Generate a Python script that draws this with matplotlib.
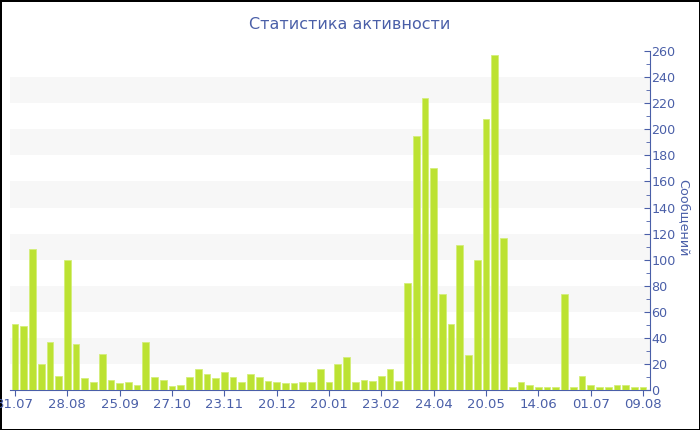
import matplotlib.pyplot as plt
from matplotlib.ticker import MultipleLocator

# messages per period, left to right
values = [51, 49, 108, 20, 37, 11, 100, 35, 9, 6, 28, 8, 5, 6, 4, 37, 10, 8, 3, 4,
          10, 16, 12, 9, 14, 10, 6, 12, 10, 7, 6, 5, 5, 6, 6, 16, 6, 20, 25, 6,
          8, 7, 11, 16, 7, 82, 195, 224, 170, 74, 51, 111, 27, 100, 208, 257, 117, 2, 6, 4,
          2, 2, 2, 74, 2, 11, 4, 2, 2, 4, 4, 2, 2]
tick_labels = ['31.07', '28.08', '25.09', '27.10', '23.11', '20.12', '20.01',
               '23.02', '24.04', '20.05', '14.06', '01.07', '09.08']
tick_step = 6

title = 'Статистика активности'
ylabel = 'Сообщений'
blue = '#4a5fa8'
bar_col = '#bce232'

fig = plt.figure(figsize=(7, 4.3), dpi=100)
fig.patch.set_edgecolor('black')
fig.patch.set_linewidth(2)
ax = fig.add_axes([0.0143, 0.093, 0.9143, 0.788])

x = list(range(len(values)))
ax.bar(x, values, width=0.77, color=bar_col, edgecolor='#d4ee7a', linewidth=0.6, zorder=3)

# alternating bands
for lo in range(20, 260, 40):
    ax.axhspan(lo, lo + 20, color='#f7f7f7', zorder=0, lw=0)

ax.set_xlim(-0.57, 72.8)
ax.set_ylim(0, 260)

ax.yaxis.tick_right()
ax.yaxis.set_label_position('right')
ax.yaxis.set_major_locator(MultipleLocator(20))
ax.yaxis.set_minor_locator(MultipleLocator(10))
ax.tick_params(axis='y', which='major', colors=blue, labelcolor=blue, labelsize=9.2,
               length=4, direction='in', pad=1)
ax.tick_params(axis='y', which='minor', colors=blue, length=3, direction='in')

ax.set_xticks(x[::tick_step])
ax.set_xticklabels(tick_labels)
ax.tick_params(axis='x', colors=blue, labelcolor=blue, labelsize=9.5, length=4, pad=2)

for side in ['top', 'left']:
    ax.spines[side].set_visible(False)
ax.spines['bottom'].set_color(blue)
ax.spines['right'].set_color(blue)

ax.set_ylabel(ylabel, color=blue, fontsize=9.2, rotation=270)
ax.yaxis.set_label_coords(1.062, 0.51)
fig.text(0.5, 0.942, title, color=blue, fontsize=11.5, ha='center', va='center')

fig.savefig('out.png', dpi=100)
